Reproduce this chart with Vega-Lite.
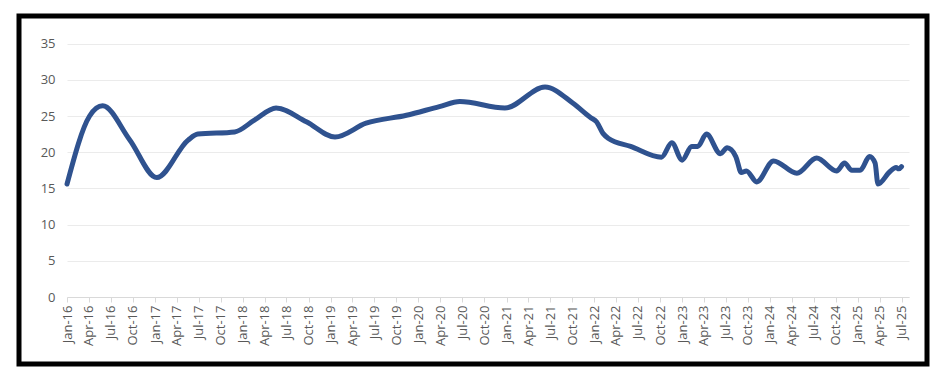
{
  "$schema": "https://vega.github.io/schema/vega-lite/v6.json",
  "width": 908,
  "height": 348,
  "autosize": "none",
  "padding": {"left": 19, "top": 16, "right": 10, "bottom": 6},
  "background": "white",
  "data": {
    "values": [
      {"date": "2016-01-01", "value": 15.6},
      {"date": "2016-04-04", "value": 25.0},
      {"date": "2016-05-28", "value": 26.4},
      {"date": "2016-09-18", "value": 21.7},
      {"date": "2017-01-08", "value": 16.5},
      {"date": "2017-05-19", "value": 21.7},
      {"date": "2017-06-28", "value": 22.5},
      {"date": "2017-11-28", "value": 22.8},
      {"date": "2018-02-21", "value": 24.5},
      {"date": "2018-05-19", "value": 26.1},
      {"date": "2018-09-22", "value": 24.2},
      {"date": "2019-01-19", "value": 22.1},
      {"date": "2019-05-28", "value": 24.0},
      {"date": "2019-11-12", "value": 25.1},
      {"date": "2020-03-28", "value": 26.3},
      {"date": "2020-06-21", "value": 27.0},
      {"date": "2020-12-25", "value": 26.1},
      {"date": "2021-06-10", "value": 29.0},
      {"date": "2021-10-03", "value": 26.8},
      {"date": "2021-12-16", "value": 24.8},
      {"date": "2022-01-10", "value": 24.2},
      {"date": "2022-02-06", "value": 22.6},
      {"date": "2022-03-01", "value": 21.9},
      {"date": "2022-06-01", "value": 20.8},
      {"date": "2022-10-07", "value": 19.3},
      {"date": "2022-11-19", "value": 21.3},
      {"date": "2023-01-01", "value": 18.9},
      {"date": "2023-02-10", "value": 20.8},
      {"date": "2023-03-07", "value": 20.8},
      {"date": "2023-04-12", "value": 22.5},
      {"date": "2023-06-09", "value": 19.8},
      {"date": "2023-07-07", "value": 20.6},
      {"date": "2023-08-12", "value": 19.4},
      {"date": "2023-09-04", "value": 17.2},
      {"date": "2023-09-25", "value": 17.4},
      {"date": "2023-11-07", "value": 15.9},
      {"date": "2024-01-16", "value": 18.8},
      {"date": "2024-04-22", "value": 17.1},
      {"date": "2024-07-13", "value": 19.2},
      {"date": "2024-10-04", "value": 17.4},
      {"date": "2024-11-06", "value": 18.5},
      {"date": "2024-12-06", "value": 17.5},
      {"date": "2025-01-10", "value": 17.5},
      {"date": "2025-02-18", "value": 19.4},
      {"date": "2025-03-13", "value": 18.5},
      {"date": "2025-03-25", "value": 15.6},
      {"date": "2025-05-13", "value": 17.3},
      {"date": "2025-06-08", "value": 17.9},
      {"date": "2025-06-20", "value": 17.7},
      {"date": "2025-07-01", "value": 18.0}
    ]
  },
  "mark": {"type": "line", "interpolate": "monotone", "strokeWidth": 5, "color": "#2F528F", "strokeCap": "round", "strokeJoin": "round"},
  "encoding": {
    "x": {
      "field": "date",
      "type": "temporal",
      "scale": {"domain": [{"year": 2016, "month": 1, "date": 1}, {"year": 2025, "month": 8, "date": 1}], "range": [48, 890]},
      "axis": {
        "orient": "bottom",
        "offset": -67,
        "title": null,
        "format": "%b-%y",
        "tickCount": {"interval": "month", "step": 3},
        "labelAngle": -90,
        "labelOverlap": false,
        "labelFlush": false,
        "grid": false,
        "domainColor": "#D9D9D9",
        "tickColor": "#D9D9D9",
        "tickSize": 5,
        "labelPadding": 3,
        "labelColor": "#595959",
        "labelFont": "Open Sans",
        "labelFontSize": 13
      }
    },
    "y": {
      "field": "value",
      "type": "quantitative",
      "scale": {"domain": [0, 35], "nice": false, "range": [281, 27.6]},
      "axis": {
        "orient": "left",
        "offset": -48,
        "title": null,
        "values": [0, 5, 10, 15, 20, 25, 30, 35],
        "domain": false,
        "ticks": false,
        "labelPadding": 12,
        "grid": true,
        "gridColor": "#EBEBEB",
        "gridWidth": 1,
        "labelColor": "#595959",
        "labelFont": "Open Sans",
        "labelFontSize": 13
      }
    }
  },
  "config": {
    "view": {"stroke": "#000000", "strokeWidth": 5, "fill": "white"}
  }
}
